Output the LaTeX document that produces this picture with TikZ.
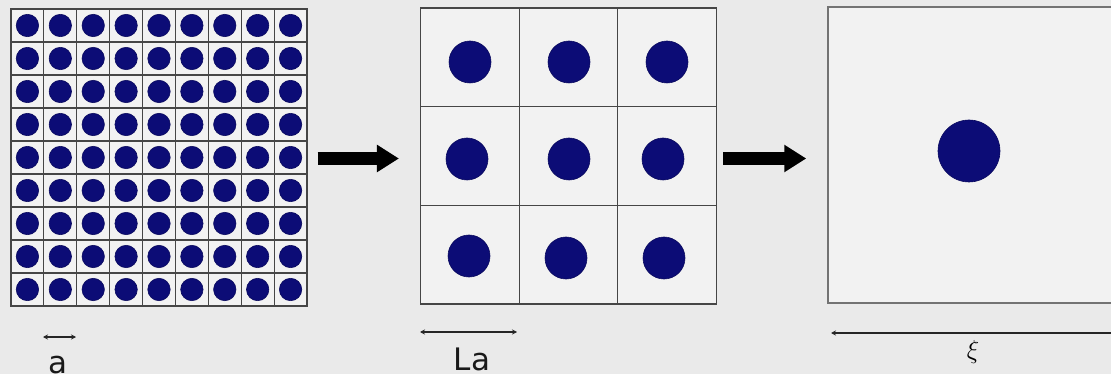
\RequirePackage{fix-cm}
\documentclass[tikz,border=0pt]{standalone}
\usepackage{fontspec}
\setmainfont{DejaVu Sans}
\usetikzlibrary{arrows.meta,calc}
\definecolor{bg}{RGB}{234,234,234}
\definecolor{cellbg}{RGB}{242,242,242}
\definecolor{dotblue}{RGB}{12,12,118}
\definecolor{gridline}{RGB}{70,70,70}
\tikzset{
  panel/.style={draw=gridline, line width=1.1pt, fill=cellbg, rectangle, inner sep=0pt},
  gline/.style={draw=gridline, line width=1.1pt},
  bdot/.style={fill=dotblue, draw=dotblue!80!black, line width=0.6pt},
  bigarrow/.style={line width=13pt, -{Triangle[length=22pt,width=26pt]}, black},
  dimarrow/.style={line width=1.6pt, {Stealth[length=5pt,width=5pt]}-{Stealth[length=5pt,width=5pt]}, black!85},
  lbl/.style={font=\fontsize{31}{36}\selectfont, text=black!90, inner sep=0pt, anchor=base}
}
\begin{document}
\begin{tikzpicture}[x=1pt,y=-1pt]
\useasboundingbox (0,0) rectangle (1111,374);
\clip (0,0) rectangle (1111,374);
\fill[bg] (0,0) rectangle (1111,374);
% panel 1: 9x9
\node[panel, minimum width=296pt, minimum height=297pt] (p1) at (159,157.5) {};
\foreach \i in {1,...,8} {
  \draw[gline] ($(11,9)+(\i*32.889,0)$) -- ++(0,297);
  \draw[gline] ($(11,9)+(0,\i*33)$) -- ++(296,0);
}
\foreach \i in {0,...,8} {
  \foreach \j in {0,...,8} {
    \fill[bdot] (11+16.44+\i*32.889, 9+16.5+\j*33) circle (11.2);
  }
}
\draw[gline] (p1.south west) rectangle (p1.north east);
% panel 2: 3x3
\node[panel, minimum width=296pt, minimum height=296pt] (p2) at (568.5,156) {};
\draw[gline] (519.3,8) -- (519.3,304);
\draw[gline] (617.7,8) -- (617.7,304);
\draw[gline] (420.5,106.7) -- (716.5,106.7);
\draw[gline] (420.5,205.3) -- (716.5,205.3);
\foreach \p in {(470,62),(569,62),(667,62),(467,159),(569,159),(663,159),(469,256),(566,258),(664,258)} {
  \fill[bdot] \p circle (21);
}
% panel 3
\node[panel, draw=black!55, line width=1.5pt, minimum width=296pt, minimum height=296pt] (p3) at (976,155) {};
\fill[bdot] (969,151) circle (31);
% big arrows
\coordinate (ay) at (0,158.5);
\coordinate (a1s) at ($(p1.east)+(10,0)$);
\coordinate (a1e) at ($(p2.west)+(-21,0)$);
\coordinate (a2s) at ($(p2.east)+(6,0)$);
\coordinate (a2e) at ($(p3.west)+(-21,0)$);
\draw[bigarrow] (a1s |- ay) -- (a1e |- ay);
\draw[bigarrow] (a2s |- ay) -- (a2e |- ay);
% dimension arrows
\coordinate (aL) at (43,337);
\coordinate (aR) at (76,337);
\draw[dimarrow] (aL) -- (aR);
\node[lbl] (la) at (58,373) {a};
\coordinate (LaL) at (420,332);
\coordinate (LaR) at (517,332);
\draw[dimarrow] (LaL) -- (LaR);
\node[lbl] (lLa) at (472,370) {La};
\coordinate (xiL) at (831,333);
\coordinate (xiR) at (1125,333);
\draw[dimarrow] (xiL) -- (xiR);
\node[inner sep=0pt, anchor=base, font=\fontsize{26}{30}\selectfont] (lxi) at (973,358) {$\xi$};
\end{tikzpicture}
\end{document}
